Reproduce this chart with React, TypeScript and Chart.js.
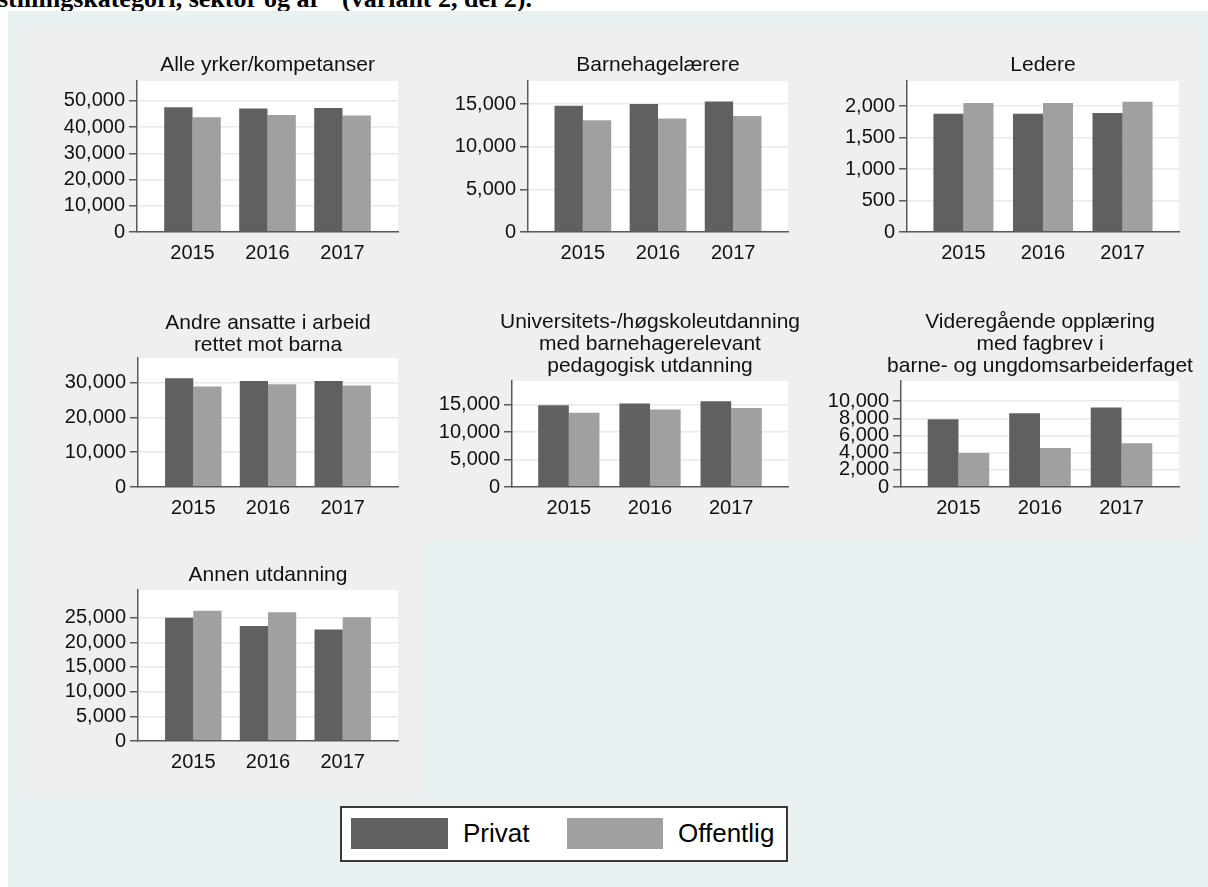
import React, { useEffect, useRef } from 'react';
import { Chart, registerables } from 'chart.js';

Chart.register(...registerables);

// ---------- data ----------
const years = ['2015', '2016', '2017'];
const seriesNames = ['Privat', 'Offentlig'];

const titleAlle = ['Alle yrker/kompetanser'];
const privatAlle = [47600, 47100, 47300];
const offentligAlle = [43800, 44600, 44400];
const ticksAlle = [0, 10000, 20000, 30000, 40000, 50000];

const titleBarnehagelaerere = ['Barnehagelærere'];
const privatBarnehagelaerere = [14800, 15000, 15300];
const offentligBarnehagelaerere = [13100, 13300, 13600];
const ticksBarnehagelaerere = [0, 5000, 10000, 15000];

const titleLedere = ['Ledere'];
const privatLedere = [1880, 1880, 1890];
const offentligLedere = [2050, 2050, 2070];
const ticksLedere = [0, 500, 1000, 1500, 2000];

const titleAndre = ['Andre ansatte i arbeid', 'rettet mot barna'];
const privatAndre = [31200, 30400, 30400];
const offentligAndre = [28800, 29500, 29100];
const ticksAndre = [0, 10000, 20000, 30000];

const titleUniv = ['Universitets-/høgskoleutdanning', 'med barnehagerelevant', 'pedagogisk utdanning'];
const privatUniv = [14900, 15200, 15600];
const offentligUniv = [13500, 14100, 14400];
const ticksUniv = [0, 5000, 10000, 15000];

const titleVgo = ['Videregående opplæring', 'med fagbrev i', 'barne- og ungdomsarbeiderfaget'];
const privatVgo = [7900, 8600, 9250];
const offentligVgo = [3950, 4550, 5100];
const ticksVgo = [0, 2000, 4000, 6000, 8000, 10000];

const titleAnnen = ['Annen utdanning'];
const privatAnnen = [25000, 23300, 22600];
const offentligAnnen = [26400, 26100, 25100];
const ticksAnnen = [0, 5000, 10000, 15000, 20000, 25000];

// ---------- styles / layout ----------
const FONT = "Arial, 'Liberation Sans', Helvetica, sans-serif";
const DARK = '#606060';
const LIGHT = '#a0a0a0';
const AXIS = '#5a5a5a';
const GRID = '#e9e9e9';
const TEXT = '#111111';
const OUTER_BG = '#eaf1f3';
const PANEL_BG = '#efefef';

const Y_AXIS_W = 110;
const X_AXIS_H = 40;
const TITLE_SIZE = 21;
const TITLE_LH = 22;
const TICK_SIZE = 20;

type PanelCfg = {
  title: string[];
  privat: number[];
  offentlig: number[];
  yTicks: number[];
  yMax: number;
  xPad: number;
  l: number; t: number; r: number; b: number;
  titleMid: number;
};

const panels: PanelCfg[] = [
  { title: titleAlle, privat: privatAlle, offentlig: offentligAlle, yTicks: ticksAlle, yMax: 57600, xPad: 0.74, l: 137, t: 81, r: 398, b: 232, titleMid: 65 },
  { title: titleBarnehagelaerere, privat: privatBarnehagelaerere, offentlig: offentligBarnehagelaerere, yTicks: ticksBarnehagelaerere, yMax: 17700, xPad: 0.73, l: 528, t: 81, r: 788, b: 232, titleMid: 65 },
  { title: titleLedere, privat: privatLedere, offentlig: offentligLedere, yTicks: ticksLedere, yMax: 2400, xPad: 0.71, l: 907, t: 81, r: 1179, b: 232, titleMid: 65 },
  { title: titleAndre, privat: privatAndre, offentlig: offentligAndre, yTicks: ticksAndre, yMax: 37000, xPad: 0.74, l: 138, t: 358, r: 398, b: 487, titleMid: 323 },
  { title: titleUniv, privat: privatUniv, offentlig: offentligUniv, yTicks: ticksUniv, yMax: 19300, xPad: 0.70, l: 512, t: 381, r: 788, b: 487, titleMid: 322 },
  { title: titleVgo, privat: privatVgo, offentlig: offentligVgo, yTicks: ticksVgo, yMax: 12350, xPad: 0.705, l: 901, t: 381, r: 1179, b: 487, titleMid: 322 },
  { title: titleAnnen, privat: privatAnnen, offentlig: offentligAnnen, yTicks: ticksAnnen, yMax: 30600, xPad: 0.74, l: 138, t: 590, r: 398, b: 741, titleMid: 575.5 },
];

const whitePlotArea = {
  id: 'whitePlotArea',
  beforeDraw(chart: any) {
    const { ctx, chartArea } = chart;
    ctx.save();
    ctx.fillStyle = '#ffffff';
    ctx.fillRect(chartArea.left, chartArea.top, chartArea.right - chartArea.left, chartArea.bottom - chartArea.top);
    ctx.restore();
  },
};

function PanelChart({ p }: { p: PanelCfg }) {
  const ref = useRef<HTMLCanvasElement>(null);
  const n = p.title.length;
  const canvasLeft = p.l - Y_AXIS_W;
  const width = p.r - p.l + 2 * Y_AXIS_W;
  const canvasTop = Math.floor(p.titleMid - TITLE_LH / 2 - 2);
  const titlePadTop = p.titleMid - TITLE_LH / 2 - canvasTop;
  const titlePadBottom = p.t - (canvasTop + titlePadTop + n * TITLE_LH);
  const height = p.b - canvasTop + X_AXIS_H + 2;

  useEffect(() => {
    const canvas = ref.current;
    if (!canvas) return;
    const tickFont = { family: FONT, size: TICK_SIZE, weight: 'normal' as const };
    const chart = new Chart(canvas, {
      type: 'bar',
      data: {
        datasets: [
          {
            label: seriesNames[0],
            data: p.privat.map((v, i) => ({ x: i, y: v })),
            backgroundColor: DARK,
            borderWidth: 0,
          },
          {
            label: seriesNames[1],
            data: p.offentlig.map((v, i) => ({ x: i, y: v })),
            backgroundColor: LIGHT,
            borderWidth: 0,
          },
        ],
      },
      options: {
        animation: false,
        responsive: false,
        devicePixelRatio: 1,
        layout: { padding: { top: 0, bottom: 2, left: 0, right: 0 } },
        datasets: { bar: { categoryPercentage: 0.755, barPercentage: 1 } } as any,
        plugins: {
          legend: { display: false },
          tooltip: { enabled: false },
          title: {
            display: true,
            text: p.title,
            color: TEXT,
            font: { family: FONT, size: TITLE_SIZE, weight: 'normal', lineHeight: TITLE_LH / TITLE_SIZE },
            padding: { top: titlePadTop, bottom: titlePadBottom },
          },
        },
        scales: {
          x: {
            type: 'linear',
            offset: false,
            min: -p.xPad,
            max: years.length - 1 + p.xPad,
            grid: { display: false, drawTicks: false },
            border: { display: true, color: AXIS, width: 1.5, z: 1 },
            afterBuildTicks: (s: any) => {
              s.ticks = years.map((_, i) => ({ value: i }));
            },
            afterFit: (s: any) => {
              s.height = X_AXIS_H;
            },
            ticks: {
              autoSkip: false,
              maxRotation: 0,
              padding: 9,
              color: TEXT,
              font: tickFont,
              callback: (v: any) => years[Number(v)] ?? '',
            },
          },
          y: {
            type: 'linear',
            min: 0,
            max: p.yMax,
            grid: { color: GRID, lineWidth: 1.5, tickColor: AXIS, tickLength: 8, tickWidth: 1.5 },
            border: { display: true, color: AXIS, width: 1.5 },
            afterBuildTicks: (s: any) => {
              s.ticks = p.yTicks.map((v) => ({ value: v }));
            },
            afterFit: (s: any) => {
              s.width = Y_AXIS_W;
            },
            ticks: {
              autoSkip: false,
              padding: 4,
              color: TEXT,
              font: tickFont,
              callback: (v: any) => Number(v).toLocaleString('en-US'),
            },
          },
          y2: {
            type: 'linear',
            position: 'right',
            display: true,
            grid: { display: false, drawTicks: false },
            border: { display: false },
            ticks: { display: false },
            afterFit: (s: any) => {
              s.width = Y_AXIS_W;
            },
          },
        },
      } as any,
      plugins: [whitePlotArea],
    });
    return () => chart.destroy();
  }, []);

  return (
    <canvas
      ref={ref}
      width={width}
      height={height}
      style={{ position: 'absolute', left: canvasLeft, top: canvasTop, width, height }}
    />
  );
}

export default function App() {
  return (
    <div style={{ position: 'absolute', left: 0, top: 0, width: 1208, height: 887, overflow: 'hidden', background: '#ffffff' }}>
      <div
        style={{
          position: 'absolute',
          left: -2,
          top: -14,
          fontFamily: "'Liberation Serif', 'Times New Roman', serif",
          fontWeight: 'bold',
          fontSize: 26,
          lineHeight: '26px',
          color: '#000',
          whiteSpace: 'nowrap',
        }}
      >
        stillingskategori, sektor og år" (variant 2, del 2).
      </div>
      <div style={{ position: 'absolute', left: 8, top: 11, width: 1200, height: 876, background: OUTER_BG }} />
      <div style={{ position: 'absolute', left: 27, top: 30, width: 1171, height: 510, background: PANEL_BG }} />
      <div style={{ position: 'absolute', left: 27, top: 540, width: 394, height: 255, background: PANEL_BG }} />
      {panels.map((p, i) => (
        <PanelChart key={i} p={p} />
      ))}
      <div
        style={{
          position: 'absolute',
          left: 340,
          top: 806,
          width: 444,
          height: 52,
          background: '#ffffff',
          border: '2px solid #3a3a3a',
          fontFamily: FONT,
          fontSize: 26,
          color: '#000',
        }}
      >
        <div style={{ position: 'absolute', left: 9, top: 10, width: 97, height: 31, background: DARK }} />
        <div style={{ position: 'absolute', left: 121, top: 7, lineHeight: '36px' }}>{seriesNames[0]}</div>
        <div style={{ position: 'absolute', left: 225, top: 10, width: 96, height: 31, background: LIGHT }} />
        <div style={{ position: 'absolute', left: 336, top: 7, lineHeight: '36px' }}>{seriesNames[1]}</div>
      </div>
    </div>
  );
}
